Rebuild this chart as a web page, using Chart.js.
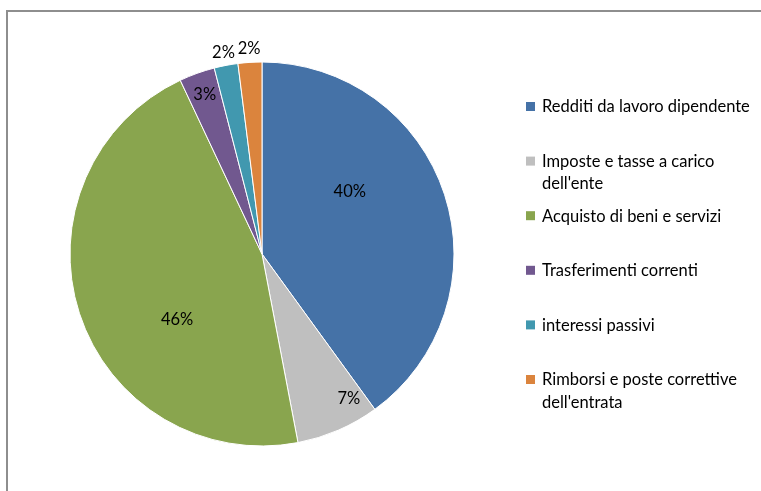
<!DOCTYPE html>
<html>
<head>
<meta charset="utf-8">
<script src="https://cdn.jsdelivr.net/npm/chart.js@4/dist/chart.umd.min.js"></script>
<style>
    html, body { margin: 0; padding: 0; background: #fff; overflow: hidden; }
    #wrap { position: relative; width: 761px; height: 491px; }
    #frame {
        position: absolute; left: 6px; top: 10px; width: 900px; height: 700px;
        border-left: 2px solid #8e8e8e; border-top: 2px solid #8e8e8e;
    }
    canvas { position: absolute; left: 0; top: 0; }
</style>
</head>
<body>
<div id="wrap">
    <div id="frame"></div>
    <canvas id="pieChart" width="761" height="491"></canvas>
</div>
<script>
// Spending categories and their share (%)
const categories = [
    'Redditi da lavoro dipendente',
    "Imposte e tasse a carico dell'ente",
    'Acquisto di beni e servizi',
    'Trasferimenti correnti',
    'interessi passivi',
    "Rimborsi e poste correttive dell'entrata"
];
const shares = [40, 7, 46, 3, 2, 2];
const sliceColors = ['#4572A7', '#BFBFBF', '#89A54E', '#71588F', '#4198AF', '#DB843D'];

const FONT = '16.5px Lato, "Open Sans", sans-serif';

// percent labels on / next to each slice
const sliceLabels = {
    id: 'sliceLabels',
    afterDatasetsDraw(chart) {
        const ctx = chart.ctx;
        const meta = chart.getDatasetMeta(0);
        ctx.save();
        ctx.font = FONT;
        ctx.fillStyle = '#000';
        ctx.textAlign = 'center';
        ctx.textBaseline = 'middle';
        meta.data.forEach((arc, i) => {
            const p = arc.getProps(['x', 'y', 'startAngle', 'endAngle', 'outerRadius'], true);
            const v = chart.data.datasets[0].data[i];
            const span = p.endAngle - p.startAngle;
            let f = 1.07, shift = 0;
            if (v >= 10) { f = 0.56; shift = 0.12; }
            else if (v >= 5) { f = 0.88; shift = 0.3; }
            else if (v >= 3) { f = 0.88; }
            const mid = (p.startAngle + p.endAngle) / 2 - span * shift;
            const x = p.x + Math.cos(mid) * p.outerRadius * f;
            const y = p.y + Math.sin(mid) * p.outerRadius * f;
            ctx.fillText(v + '%', x, y);
        });
        ctx.restore();
    }
};

// legend drawn Excel-style: fixed step, wrapped text
const sideLegend = {
    id: 'sideLegend',
    afterDraw(chart, args, opts) {
        const ctx = chart.ctx;
        const colors = chart.data.datasets[0].backgroundColor;
        ctx.save();
        ctx.font = FONT;
        ctx.textBaseline = 'middle';
        ctx.textAlign = 'left';
        chart.data.labels.forEach((label, i) => {
            const y = opts.top + i * opts.step;
            ctx.fillStyle = colors[i];
            ctx.fillRect(opts.left, y - 5, 9, 9);
            ctx.fillStyle = '#000';
            // word wrap
            const words = label.split(' ');
            const lines = [];
            let line = '';
            words.forEach(w => {
                const test = line ? line + ' ' + w : w;
                if (ctx.measureText(test).width > opts.maxWidth && line) {
                    lines.push(line);
                    line = w;
                } else {
                    line = test;
                }
            });
            lines.push(line);
            lines.forEach((l, k) => ctx.fillText(l, opts.left + 16, y + k * 22.5));
        });
        ctx.restore();
    }
};

new Chart(document.getElementById('pieChart'), {
    type: 'pie',
    data: {
        labels: categories,
        datasets: [{
            data: shares,
            backgroundColor: sliceColors,
            borderColor: '#ffffff',
            borderWidth: 1
        }]
    },
    options: {
        responsive: false,
        animation: false,
        radius: 192,
        layout: { padding: { left: 62, top: 54, right: 299, bottom: 37 } },
        plugins: {
            legend: { display: false },
            tooltip: { enabled: false },
            sideLegend: { left: 526, top: 107, step: 54.6, maxWidth: 216 }
        }
    },
    plugins: [sliceLabels, sideLegend]
});
</script>
</body>
</html>
